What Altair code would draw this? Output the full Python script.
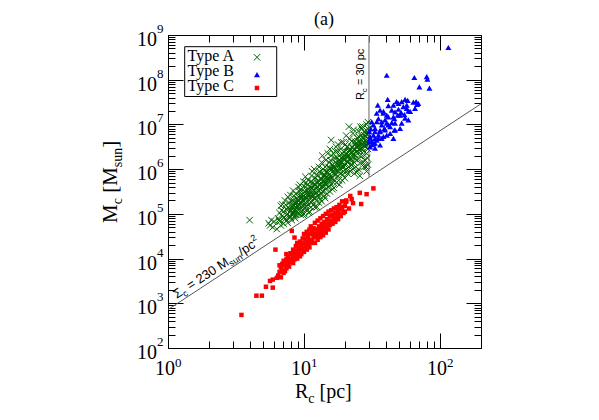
import math
import pandas as pd
import altair as alt

# ---------------- data (log10 Rc [pc], log10 Mc [Msun]) ----------------
A_logR = [0.60, 0.74, 0.76, 0.75, 0.77, 0.78,
          0.80, 0.81, 0.82, 0.83, 0.84, 0.85, 0.83, 0.84, 0.85, 0.82,
          0.86, 0.87, 0.88, 0.88, 0.89, 0.90, 0.90, 0.87, 0.89, 0.90, 0.86, 0.88,
          0.91, 0.91, 0.92, 0.92, 0.93, 0.93, 0.94, 0.94, 0.95, 0.95, 0.96, 0.95, 0.92, 0.93, 0.94,
          0.96, 0.96, 0.97, 0.97, 0.98, 0.98, 0.98, 0.99, 0.99, 1.00, 1.00, 1.00, 1.01, 1.01, 0.97, 0.99,
          1.02, 1.02, 1.02, 1.03, 1.03, 1.04, 1.04, 1.04, 1.05, 1.05, 1.05, 1.06, 1.06, 1.06, 1.03,
          1.07, 1.07, 1.07, 1.08, 1.08, 1.08, 1.09, 1.09, 1.09, 1.10, 1.10, 1.10, 1.11, 1.11, 1.11, 1.08,
          1.12, 1.12, 1.12, 1.13, 1.13, 1.13, 1.14, 1.14, 1.14, 1.15, 1.15, 1.15, 1.16, 1.16, 1.16, 1.13,
          1.17, 1.17, 1.17, 1.18, 1.18, 1.18, 1.19, 1.19, 1.19, 1.20, 1.20, 1.20, 1.21, 1.21, 1.21, 1.20, 1.19,
          1.22, 1.22, 1.22, 1.23, 1.23, 1.23, 1.24, 1.24, 1.24, 1.25, 1.25, 1.25, 1.26, 1.26, 1.26,
          1.27, 1.27, 1.27, 1.28, 1.28, 1.28, 1.29, 1.29, 1.29, 1.30, 1.30, 1.30, 1.31, 1.31, 1.31,
          1.32, 1.32, 1.32, 1.33, 1.33, 1.33, 1.34, 1.34, 1.34, 1.35, 1.35, 1.35, 1.36, 1.36, 1.36,
          1.37, 1.37, 1.37, 1.38, 1.38, 1.38, 1.39, 1.39, 1.39, 1.40, 1.40, 1.40, 1.41, 1.41, 1.41,
          1.42, 1.42, 1.42, 1.43, 1.43, 1.43, 1.44, 1.44, 1.44, 1.45, 1.45, 1.45, 1.46, 1.46, 1.46,
          1.47, 1.47, 1.47, 1.47, 1.47, 1.46,
          0.815, 0.835, 0.855, 0.865, 0.875, 0.885, 0.895, 0.905, 0.915, 0.925, 0.935, 0.945,
          0.955, 0.965, 0.975, 0.985, 0.995, 1.005, 1.015, 1.025, 1.035, 1.045, 1.055, 1.065,
          1.075, 1.085, 1.095, 1.105, 1.115, 1.125, 1.135, 1.145, 1.155, 1.165, 1.175, 1.185,
          1.195, 1.205, 1.215, 1.225, 1.235, 1.245, 1.255, 1.265, 1.275, 1.285, 1.295, 1.305,
          1.315, 1.325, 1.335, 1.345, 1.355, 1.365, 1.375, 1.385, 1.395, 1.405, 1.415, 1.425,
          1.435, 1.445, 1.455, 1.465, 1.475, 1.465, 1.455, 1.435, 1.415, 1.395, 1.375, 1.355,
          1.335, 1.315, 1.295, 1.275, 1.255, 1.235, 1.215, 1.195, 1.175, 1.155, 1.135, 1.115,
          1.095, 1.075, 1.055, 1.035, 1.015, 0.995, 0.975,
          0.902, 0.912, 0.918, 0.928, 0.938, 0.948, 0.952, 0.962, 0.968, 0.978, 0.982, 0.992,
          1.002, 1.008, 1.018, 1.022, 1.032, 1.042, 1.048, 1.058, 1.062, 1.072, 1.078, 1.088,
          1.092, 1.102, 1.108, 1.118, 1.122, 1.132, 1.142, 1.148, 1.158, 1.162, 1.172, 1.178,
          1.188, 1.192, 1.202, 1.208, 1.218, 1.228, 1.232, 1.242, 1.248, 1.258, 1.262, 1.272,
          1.278, 1.288, 1.292, 1.302, 1.308, 1.318, 1.322, 1.332, 1.338, 1.348, 1.352, 1.362,
          1.368, 1.378, 1.382, 1.392, 1.398, 1.408, 1.412, 1.422, 1.428, 1.438, 1.442, 1.452,
          1.458, 1.468, 1.472]
A_logM = [4.86, 4.79, 4.86, 4.74, 4.70, 4.83,
          4.66, 4.90, 5.02, 5.18, 5.21, 4.78, 4.74, 4.95, 5.05, 4.83,
          4.88, 5.10, 4.80, 5.00, 5.25, 5.42, 4.92, 4.98, 5.12, 5.05, 5.30, 5.38,
          4.86, 5.15, 5.00, 5.30, 5.10, 4.95, 5.22, 5.45, 5.05, 5.35, 5.60, 5.18, 5.52, 5.25, 4.98,
          5.00, 5.28, 5.12, 5.40, 5.05, 5.22, 5.50, 5.32, 5.15, 5.00, 5.40, 5.62, 5.25, 5.83, 5.65, 4.98,
          5.10, 5.35, 5.52, 5.20, 5.45, 5.05, 5.30, 5.60, 5.40, 5.15, 5.72, 5.28, 5.50, 5.95, 5.75,
          5.20, 5.42, 5.62, 5.35, 5.55, 5.15, 5.48, 5.70, 5.30, 5.60, 5.40, 5.85, 5.25, 5.52, 6.05, 5.80,
          5.45, 5.65, 5.33, 5.58, 5.78, 5.28, 5.50, 5.70, 6.00, 5.62, 5.40, 5.88, 5.55, 5.75, 6.20, 6.15,
          5.45, 5.68, 5.90, 5.60, 5.80, 6.05, 5.50, 5.72, 6.00, 5.85, 5.65, 6.30, 5.95, 5.55, 6.10, 6.65, 6.45,
          5.75, 6.02, 5.58, 5.88, 6.15, 6.40, 5.70, 5.98, 6.25, 5.85, 6.10, 6.55, 5.65, 6.00, 6.30,
          5.90, 6.18, 6.45, 5.75, 6.05, 6.35, 5.95, 6.22, 6.60, 5.80, 6.10, 6.40, 6.00, 6.28, 6.75,
          6.15, 5.90, 6.50, 6.95, 6.30, 6.05, 5.95, 6.20, 6.45, 6.35, 6.10, 6.62, 6.00, 6.28, 6.80,
          6.15, 6.45, 5.90, 6.30, 6.58, 6.05, 6.40, 6.70, 6.20, 6.00, 6.50, 6.85, 6.30, 6.62, 5.85,
          6.45, 6.15, 6.75, 6.55, 6.30, 6.95, 6.05, 6.40, 6.68, 6.50, 6.80, 6.20, 6.60, 6.35, 7.00,
          6.70, 6.45, 6.90, 7.05, 6.10, 5.95,
          4.86, 5.08, 4.92, 5.20, 4.86, 5.15, 4.95, 5.28, 5.02, 5.40, 4.90, 5.12,
          5.30, 5.50, 4.98, 5.38, 5.08, 5.50, 5.18, 5.65, 5.02, 5.45, 5.25, 5.70,
          5.35, 5.65, 5.15, 5.75, 5.40, 5.90, 5.50, 5.82, 5.35, 5.95, 5.60, 6.15,
          5.80, 6.00, 5.70, 6.25, 5.95, 6.40, 5.75, 6.12, 6.60, 5.88, 6.30, 6.55,
          5.95, 6.38, 6.68, 6.10, 6.48, 6.88, 6.22, 6.50, 5.95, 6.72, 6.40, 6.90,
          6.15, 6.58, 6.88, 6.25, 6.55, 6.78, 6.05, 6.70, 6.95, 6.55, 6.62, 6.20,
          6.40, 6.50, 6.05, 6.25, 6.20, 6.50, 6.35, 6.20, 6.35, 6.05, 6.30, 5.95,
          5.88, 6.00, 5.85, 5.55, 5.70, 5.72, 5.55,
          5.08, 4.98, 5.20, 5.06, 5.16, 5.26, 5.10, 5.20, 5.35, 5.25, 5.42, 5.30,
          5.22, 5.36, 5.46, 5.28, 5.40, 5.52, 5.36, 5.58, 5.44, 5.52, 5.66, 5.46,
          5.60, 5.70, 5.52, 5.66, 5.78, 5.62, 5.74, 5.86, 5.68, 5.82, 5.94, 5.76,
          5.88, 6.02, 5.80, 5.94, 6.06, 5.86, 6.00, 6.12, 5.96, 6.08, 6.20, 6.00,
          6.14, 6.26, 6.12, 6.24, 6.34, 6.16, 6.28, 6.40, 6.24, 6.36, 6.50, 6.34,
          6.44, 6.56, 6.38, 6.50, 6.62, 6.44, 6.56, 6.66, 6.48, 6.60, 6.76, 6.54,
          6.66, 6.58, 6.80]

B_logR = [2.061, 1.608, 1.811, 1.902, 1.907, 1.848, 1.922, 1.615, 1.824, 1.831, 1.542,
          1.620, 1.657, 1.694, 1.718, 1.743, 1.762, 1.755, 1.730, 1.694, 1.669, 1.645, 1.608, 1.583,
          1.559, 1.534, 1.547, 1.571, 1.596, 1.620, 1.664, 1.689, 1.713, 1.738, 1.767, 1.664, 1.608,
          1.571, 1.547, 1.522, 1.510, 1.498, 1.485, 1.478, 1.510, 1.534, 1.620, 1.645, 1.591, 1.559,
          1.522,
          1.680, 1.804, 1.840, 1.584, 1.755, 1.780, 1.816, 1.657, 1.706, 1.743, 1.767, 1.718, 1.669,
          1.633, 1.608, 1.571, 1.535, 1.522, 1.559, 1.596, 1.633, 1.669, 1.706, 1.510, 1.547, 1.584,
          1.657, 1.498, 1.522, 1.559, 1.486, 1.486, 1.522, 1.480, 1.500, 1.490]
B_logM = [8.72, 8.10, 8.05, 8.07, 8.01, 7.84, 7.81, 7.56, 7.51, 7.45, 7.43,
          7.42, 7.43, 7.47, 7.51, 7.56, 7.54, 7.43, 7.40, 7.34, 7.28, 7.32, 7.21, 7.25,
          7.32, 7.25, 7.13, 7.06, 7.10, 7.17, 7.13, 7.21, 7.27, 7.22, 7.30, 6.87, 6.76,
          6.69, 6.76, 6.84, 6.99, 7.06, 6.72, 6.61, 6.57, 6.65, 6.99, 7.04, 6.91, 6.87,
          6.69,
          7.51, 7.50, 7.47, 7.29, 7.36, 7.29, 7.36, 7.17, 7.21, 7.14, 7.10, 7.03, 7.03,
          6.95, 7.03, 6.99, 7.06, 6.91, 6.84, 6.88, 6.80, 6.88, 6.91, 6.76, 6.69, 6.73,
          6.69, 6.62, 6.58, 6.54, 6.69, 6.50, 6.47, 6.84, 6.55, 6.90]

C_logR = [0.54, 0.65, 0.69, 0.72, 0.77, 0.75, 0.77, 0.80, 0.79, 0.82, 0.91, 0.93,
          0.81, 0.82, 0.83, 0.84, 0.85, 0.84, 0.83, 0.85,
          0.86, 0.86, 0.87, 0.87, 0.88, 0.88, 0.89, 0.89, 0.90, 0.90, 0.87,
          0.91, 0.91, 0.92, 0.92, 0.93, 0.93, 0.94, 0.94, 0.95, 0.95, 0.95, 0.92,
          0.96, 0.96, 0.97, 0.97, 0.98, 0.98, 0.99, 0.99, 1.00, 1.00, 1.00, 0.97,
          1.01, 1.01, 1.02, 1.02, 1.02, 1.03, 1.03, 1.04, 1.04, 1.04, 1.05, 1.05, 1.05,
          1.06, 1.06, 1.07, 1.07, 1.08, 1.08, 1.08, 1.09, 1.09, 1.10, 1.10, 1.10,
          1.11, 1.11, 1.12, 1.12, 1.12, 1.13, 1.13, 1.14, 1.14, 1.14, 1.15, 1.15,
          1.16, 1.16, 1.16, 1.17, 1.17, 1.18, 1.18, 1.18, 1.19, 1.19, 1.20, 1.20,
          1.21, 1.21, 1.22, 1.22, 1.23, 1.23, 1.24, 1.24, 1.25, 1.25,
          1.26, 1.26, 1.27, 1.28, 1.28, 1.29, 1.30, 1.31, 1.30, 1.27,
          1.31, 1.34, 1.36, 1.42, 1.41, 1.46, 1.51, 1.33, 1.35]
C_logM = [2.74, 3.17, 3.17, 3.37, 3.35, 3.50, 3.53, 3.57, 4.20, 3.85, 4.62, 4.47,
          3.62, 3.70, 3.58, 3.75, 3.68, 3.88, 3.80, 3.95,
          3.72, 3.85, 3.78, 3.98, 3.90, 4.05, 3.82, 4.00, 4.12, 3.92, 4.10,
          3.95, 4.10, 4.02, 4.20, 3.98, 4.15, 4.08, 4.28, 4.18, 4.00, 4.35, 3.90,
          4.12, 4.25, 4.20, 4.38, 4.10, 4.30, 4.22, 4.45, 4.15, 4.35, 4.55, 4.05,
          4.28, 4.45, 4.20, 4.38, 4.60, 4.32, 4.50, 4.25, 4.42, 4.65, 4.55, 4.35, 4.72,
          4.40, 4.60, 4.48, 4.68, 4.35, 4.55, 4.80, 4.50, 4.65, 4.42, 4.60, 4.85,
          4.55, 4.72, 4.48, 4.65, 4.90, 4.60, 4.78, 4.52, 4.70, 4.95, 4.65, 4.82,
          4.58, 4.75, 5.00, 4.70, 4.88, 4.65, 4.82, 5.05, 4.75, 4.95, 4.85, 5.08,
          4.78, 4.98, 4.90, 5.12, 4.82, 5.02, 4.95, 5.15, 4.88, 5.08,
          5.00, 5.20, 4.95, 5.10, 5.28, 5.02, 5.18, 5.30, 5.05, 5.15,
          5.27, 5.40, 5.24, 5.22, 5.47, 5.44, 5.57, 5.12, 5.33]

SIGMA_C = 230.0          # Msun / pc^2 (surface density line)
R_CUT = 30.0             # pc (vertical divider)
line_R = [1.0, 200.0]
cut_M_top = 1e9

x_major = [1, 10, 100]
x_exp = ["0", "1", "2"]
y_major = [10 ** n for n in range(2, 10)]
y_exp = [str(n) for n in range(2, 10)]
x_minor = [k * 10 ** n for n in range(0, 3) for k in range(2, 10) if k * 10 ** n <= 200]
y_minor = [k * 10 ** n for n in range(2, 9) for k in range(2, 10)]
legend_names = ["Type A", "Type B", "Type C"]

# ---------------- styles ----------------
W = H = 313
SERIF = "Liberation Serif"
SANS = "Liberation Sans"
GREEN, BLUE, RED = "#006400", "#0000ff", "#ff0000"
XSHAPE = "M-1,-1L1,1M-1,1L1,-1"

xs = alt.Scale(type="log", domain=[1, 200], nice=False)
ys = alt.Scale(type="log", domain=[100, 1e9], nice=False)


def X():
    return alt.X("R:Q", scale=xs, axis=None)


def Y():
    return alt.Y("M:Q", scale=ys, axis=None)


def frame(logR, logM):
    return pd.DataFrame({"R": [10 ** v for v in logR], "M": [10 ** v for v in logM]})


one = pd.DataFrame({"k": [0]})

# lines
sig_df = pd.DataFrame({"R": line_R, "M": [math.pi * SIGMA_C * r * r for r in line_R]})
diag = alt.Chart(sig_df).mark_line(color="#555555", strokeWidth=1).encode(x=X(), y=Y())
cut_df = pd.DataFrame({"R": [R_CUT, R_CUT],
                       "M": [math.pi * SIGMA_C * R_CUT * R_CUT, cut_M_top]})
vert = alt.Chart(cut_df).mark_line(color="#999999", strokeWidth=1.5).encode(x=X(), y=Y())

# scatter
ptsA = alt.Chart(frame(A_logR, A_logM)).mark_point(
    shape=XSHAPE, filled=False, color=GREEN, strokeWidth=1, size=42, opacity=1
).encode(x=X(), y=Y())
ptsB = alt.Chart(frame(B_logR, B_logM)).mark_point(
    shape="triangle-up", filled=True, color=BLUE, size=36, opacity=1
).encode(x=X(), y=Y())
ptsC = alt.Chart(frame(C_logR, C_logM)).mark_point(
    shape="square", filled=True, color=RED, size=20, opacity=1
).encode(x=X(), y=Y())

# tick carriers (inward ticks on all four sides)
dummy = pd.DataFrame({"R": [10.0], "M": [1e5]})


def carrier(xo, yo, xv, yv, size):
    common = dict(labels=False, domain=False, grid=False, title=None,
                  tickColor="black", tickWidth=1, tickSize=size)
    return alt.Chart(dummy).mark_point(opacity=0).encode(
        x=alt.X("R:Q", scale=xs, axis=alt.Axis(orient=xo, offset=-H, values=xv, **common)),
        y=alt.Y("M:Q", scale=ys, axis=alt.Axis(orient=yo, offset=-W, values=yv, **common)),
    )


carriers = [
    carrier("top", "right", x_major, y_major, 15),
    carrier("top", "right", x_minor, y_minor, 7),
    carrier("bottom", "left", x_major, y_major, 15),
    carrier("bottom", "left", x_minor, y_minor, 7),
]

# tick labels
xt = pd.DataFrame({"R": x_major, "e": x_exp})
yt = pd.DataFrame({"M": y_major, "e": y_exp})
xl10 = alt.Chart(xt).mark_text(text="10", font=SERIF, fontSize=20, align="center",
                               baseline="alphabetic", dx=-3).encode(x=X(), y=alt.value(H + 27))
xlex = alt.Chart(xt).mark_text(font=SERIF, fontSize=13, align="left",
                               baseline="alphabetic", dx=7).encode(x=X(), y=alt.value(H + 19), text="e:N")
yl10 = alt.Chart(yt).mark_text(text="10", font=SERIF, fontSize=20, align="right",
                               baseline="alphabetic", dy=11).encode(x=alt.value(-11), y=Y())
ylex = alt.Chart(yt).mark_text(font=SERIF, fontSize=13, align="left",
                               baseline="alphabetic", dy=-2).encode(x=alt.value(-11), y=Y(), text="e:N")


def ptext(text, x, y, size, font, angle=0, dx=0, dy=0, align="left"):
    kw = dict(text=text, font=font, fontSize=size, align=align, baseline="alphabetic",
              dx=dx, dy=dy, color="black")
    if angle:
        kw["angle"] = angle
    return alt.Chart(one).mark_text(**kw).encode(x=alt.value(x), y=alt.value(y))


def dtext(text, R, M, size, font, angle=0, dx=0, dy=0, align="left"):
    kw = dict(text=text, font=font, fontSize=size, align=align, baseline="alphabetic",
              dx=dx, dy=dy, color="black")
    if angle:
        kw["angle"] = angle
    return alt.Chart(pd.DataFrame({"R": [R], "M": [M]})).mark_text(**kw).encode(x=X(), y=Y())


texts = []
# axis titles
texts += [ptext("R", 127, H + 50, 20, SERIF),
          ptext("c", 140.3, H + 55, 14, SERIF),
          ptext("[pc]", 151.5, H + 50, 20, SERIF)]
texts += [ptext("M", -51, 188, 21, SERIF, angle=270, dx=0),
          ptext("c", -51, 188, 14, SERIF, angle=270, dx=18.7, dy=5),
          ptext("[M", -51, 188, 21, SERIF, angle=270, dx=30.2),
          ptext("sun", -51, 188, 14, SERIF, angle=270, dx=55.8, dy=5),
          ptext("]", -51, 188, 21, SERIF, angle=270, dx=75.2)]
# panel title
texts.append(ptext("(a)", 156, -10, 18, SERIF, align="center"))

# sigma label along the diagonal line
ang = 360 - math.degrees(math.atan(2 * (H / 7.0) / (W / math.log10(200))))
aR = 10 ** 0.08
aM = math.pi * SIGMA_C * aR * aR
for t, sz, ddx, ddy in [("Σ", 13, 0, -4), ("c", 9, 8.0, -1), ("= 230 M", 13, 16.1, -4),
                        ("sun", 9, 63.4, -1), ("/pc", 13, 77.9, -4), ("2", 9, 95.2, -10)]:
    texts.append(dtext(t, aR, aM, sz, SANS, angle=ang, dx=ddx, dy=ddy))

# Rc = 30 pc label
for t, sz, ddx, ddy in [("R", 11, 0, -5), ("c", 8, 7.9, -2), ("= 30 pc", 11, 15.0, -5)]:
    texts.append(dtext(t, R_CUT, 3.5e7, sz, SANS, angle=270, dx=ddx, dy=ddy))

# legend (box with labels left, symbols right)
leg = [alt.Chart(one).mark_rect(fill="white", stroke="black", strokeWidth=1).encode(
    x=alt.value(16.7), x2=alt.value(108.7), y=alt.value(11.7), y2=alt.value(61.5))]
rows_y = [25.7, 41.3, 55.7]
sym_y = [22.3, 39.7, 53]
SX = 89
for name, yb in zip(legend_names, rows_y):
    leg.append(ptext(name, 19.5, yb, 16, SERIF))
leg.append(alt.Chart(one).mark_point(shape=XSHAPE, filled=False, color=GREEN, strokeWidth=1,
                                     size=42, opacity=1).encode(x=alt.value(SX), y=alt.value(sym_y[0])))
leg.append(alt.Chart(one).mark_point(shape="triangle-up", filled=True, color=BLUE, size=36,
                                     opacity=1).encode(x=alt.value(SX), y=alt.value(sym_y[1])))
leg.append(alt.Chart(one).mark_point(shape="square", filled=True, color=RED, size=20,
                                     opacity=1).encode(x=alt.value(SX), y=alt.value(sym_y[2])))

chart = alt.layer(
    diag, vert, ptsA, ptsB, ptsC, *carriers, xl10, xlex, yl10, ylex, *texts, *leg
).resolve_axis(x="independent", y="independent").properties(
    width=W, height=H,
    autosize=alt.AutoSizeParams(type="none"),
    padding={"left": 160, "top": 27, "right": 100, "bottom": 62},
    background="white",
).configure_view(stroke="black", strokeWidth=1)

chart.save("out.html", embed_options={"renderer": "svg", "actions": False})
